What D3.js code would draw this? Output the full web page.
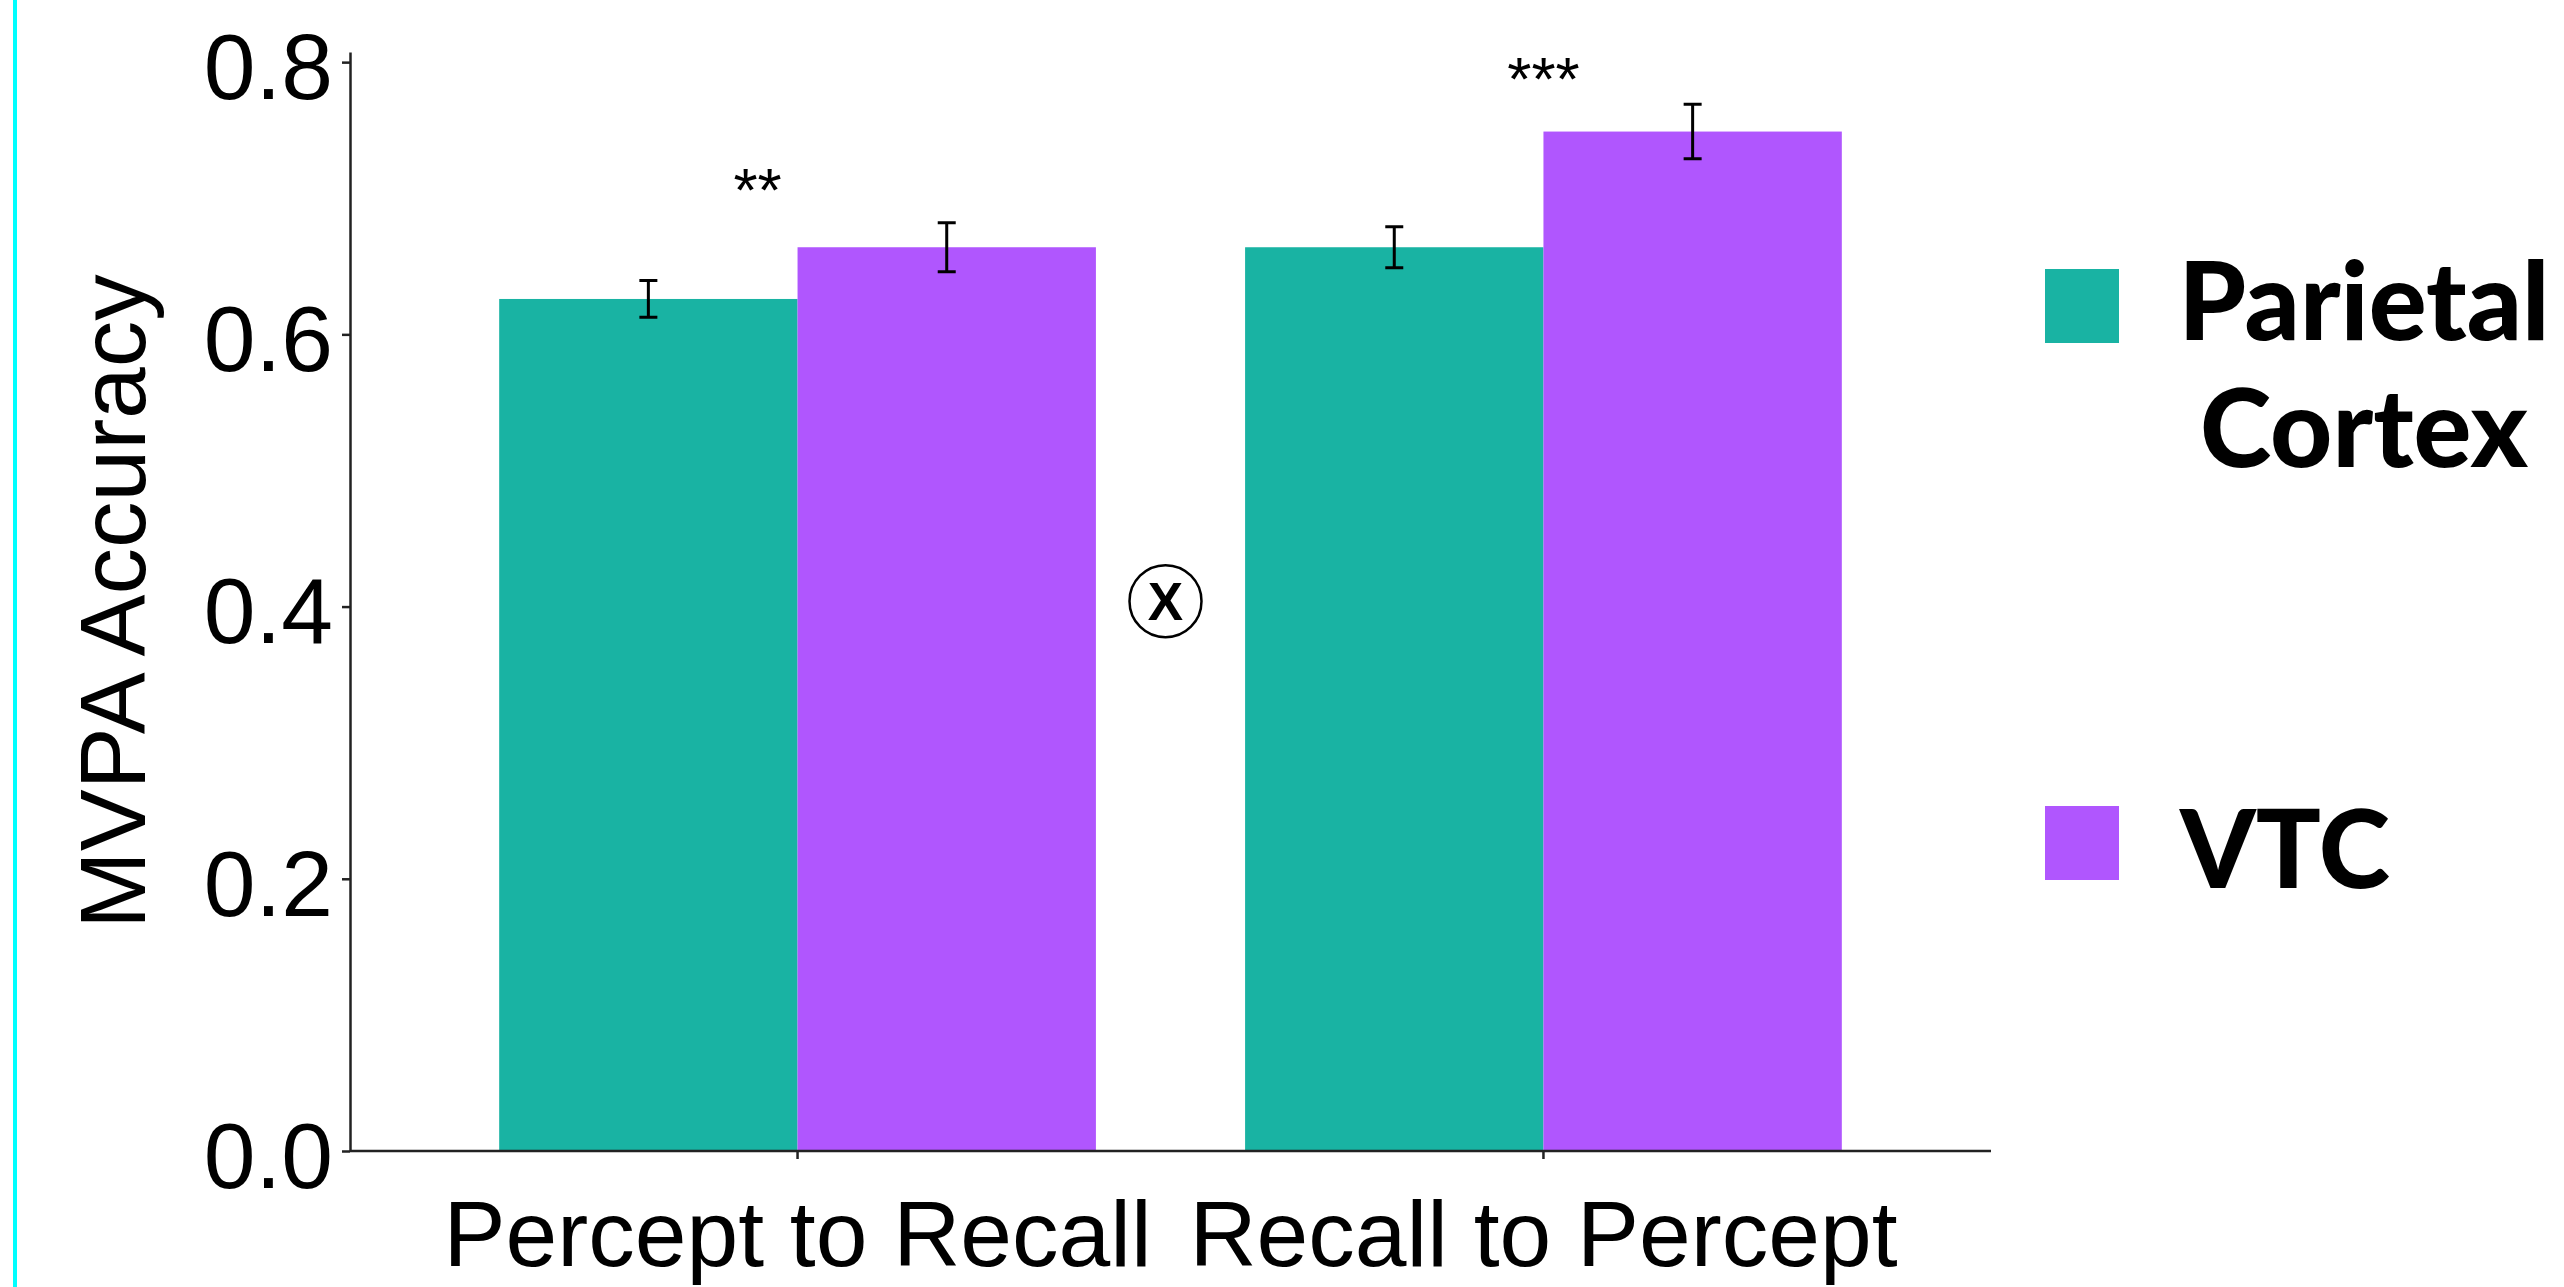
<!DOCTYPE html>
<html>
<head>
<meta charset="utf-8">
<script src="https://cdn.jsdelivr.net/npm/d3@7"></script>
<style>
  html, body { margin: 0; padding: 0; background: #fff; overflow: hidden; }
  svg { display: block; }
</style>
</head>
<body>
<svg id="chart" width="2564" height="1287"></svg>
<script>
// Decoding accuracy by transfer direction and region
const categories = ["Percept to Recall", "Recall to Percept"];
const seriesNames = ["Parietal Cortex", "VTC"];
const parietalMeans = [0.626, 0.664];
const parietalErrors = [0.0135, 0.015];
const vtcMeans = [0.664, 0.749];
const vtcErrors = [0.018, 0.020];
const significance = ["**", "***"];
const yTicks = [0.0, 0.2, 0.4, 0.6, 0.8];
const yTitle = "MVPA Accuracy";
const interactionMarkValue = 0.404;

const colors = { "Parietal Cortex": "#19b3a3", "VTC": "#b056fe" };

const rows = [];
categories.forEach((c, i) => {
  rows.push({ cat: c, series: seriesNames[0], mean: parietalMeans[i], se: parietalErrors[i] });
  rows.push({ cat: c, series: seriesNames[1], mean: vtcMeans[i], se: vtcErrors[i] });
});

const W = 2564, H = 1287;
const plot = { left: 350, right: 1991, top: 52, bottom: 1151 };
const FONT = "'Liberation Sans', Arial, Helvetica, sans-serif";
const LEGEND_FONT = "Lato, 'Noto Sans', sans-serif";

const svg = d3.select("#chart");
svg.append("rect").attr("width", W).attr("height", H).attr("fill", "#fff");

// slide edge accent
svg.append("rect").attr("x", 13).attr("y", 0).attr("width", 4).attr("height", H).attr("fill", "#00ffff");

const x = d3.scaleBand().domain(categories)
  .range([plot.left, plot.right]).paddingInner(0.2).paddingOuter(0.2);
const xs = d3.scaleBand().domain(seriesNames).range([0, x.bandwidth()]);
const yMax = d3.max(rows, r => r.mean + r.se) * 1.05;
const y = d3.scaleLinear().domain([0, yMax]).range([plot.bottom, plot.top]);

// bars
svg.append("g").selectAll("rect").data(rows).join("rect")
  .attr("x", d => x(d.cat) + xs(d.series))
  .attr("width", xs.bandwidth())
  .attr("y", d => y(d.mean))
  .attr("height", d => y(0) - y(d.mean))
  .attr("fill", d => colors[d.series]);

// error bars
const capHalf = 9;
const eb = svg.append("g").attr("stroke", "#000").attr("stroke-width", 3).attr("fill", "none");
eb.selectAll("path").data(rows).join("path")
  .attr("d", d => {
    const cx = x(d.cat) + xs(d.series) + xs.bandwidth() / 2;
    const t = y(d.mean + d.se), b = y(d.mean - d.se);
    return `M${cx - capHalf},${t}H${cx + capHalf}M${cx},${t}V${b}M${cx - capHalf},${b}H${cx + capHalf}`;
  });

// significance stars above each pair (pixel nudges [dx, dy])
const starNudge = [[-40, -12], [0, -4]];
svg.append("g").selectAll("text").data(categories).join("text")
  .attr("x", (c, i) => x(c) + x.bandwidth() / 2 + starNudge[i][0])
  .attr("y", (c, i) => y(Math.max(parietalMeans[i] + parietalErrors[i], vtcMeans[i] + vtcErrors[i])) + starNudge[i][1])
  .attr("text-anchor", "middle")
  .attr("font-family", FONT)
  .attr("font-size", 62)
  .attr("fill", "#000")
  .text((c, i) => significance[i]);

// interaction marker between the two pairs
const midX = (x(categories[0]) + x(categories[1]) + x.bandwidth()) / 2 - 5;
const mark = svg.append("g").attr("transform", `translate(${midX},${y(interactionMarkValue)})`);
mark.append("circle").attr("r", 36).attr("fill", "none").attr("stroke", "#000").attr("stroke-width", 2.5);
mark.append("text").attr("y", 19).attr("text-anchor", "middle")
  .attr("font-family", FONT).attr("font-weight", "bold").attr("font-size", 53).text("X");

// axes
const yAxis = svg.append("g").attr("transform", `translate(${plot.left},0)`)
  .call(d3.axisLeft(y).tickValues(yTicks).tickFormat(d3.format(".1f")).tickSize(8).tickSizeOuter(0).tickPadding(9));
const xAxis = svg.append("g").attr("transform", `translate(0,${plot.bottom})`)
  .call(d3.axisBottom(x).tickSize(8).tickSizeOuter(0).tickPadding(0));

[yAxis, xAxis].forEach(g => {
  g.select(".domain").attr("stroke", "#222").attr("stroke-width", 2.5);
  g.selectAll(".tick line").attr("stroke", "#222").attr("stroke-width", 2.5);
  g.selectAll(".tick text").attr("font-family", FONT).attr("font-size", 93).attr("fill", "#000");
});
yAxis.selectAll(".tick text").attr("dy", "0.39em");
xAxis.selectAll(".tick text").attr("y", 0).attr("dy", 0)
  .attr("transform", `translate(0,${1266 - plot.bottom})`);
xAxis.select(".domain").attr("d", `M${plot.left},0H${plot.right}`);

// y-axis title
svg.append("text")
  .attr("transform", `translate(145,${(plot.top + plot.bottom) / 2}) rotate(-90)`)
  .attr("text-anchor", "middle")
  .attr("font-family", FONT).attr("font-size", 93).attr("fill", "#000")
  .text(yTitle);

// legend
const legendKeys = [{ name: seriesNames[0], keyY: 269, baseY: 340, center: true },
                    { name: seriesNames[1], keyY: 806, baseY: 888, center: false }];
const lg = svg.append("g");
legendKeys.forEach(k => {
  lg.append("rect").attr("x", 2045).attr("y", k.keyY).attr("width", 74).attr("height", 74)
    .attr("fill", colors[k.name]);
  const words = k.name.split(" ");
  const t = lg.append("text")
    .attr("font-family", LEGEND_FONT).attr("font-weight", 900).attr("font-size", 108).attr("fill", "#000")
    .attr("text-anchor", k.center ? "middle" : "start");
  words.forEach((w, i) => {
    t.append("tspan").attr("x", k.center ? 2364 : 2180).attr("y", k.baseY + i * 127).text(w);
  });
});
</script>
</body>
</html>
